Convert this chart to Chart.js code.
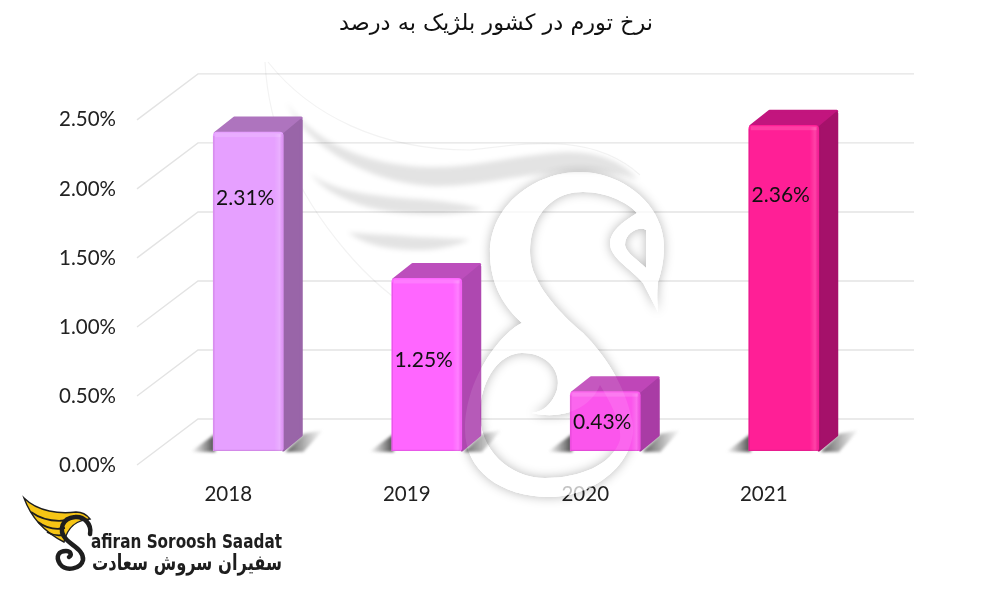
<!DOCTYPE html>
<html lang="fa">
<head>
<meta charset="utf-8">
<title>نرخ تورم در کشور بلژیک به درصد</title>
<script src="https://cdn.jsdelivr.net/npm/chart.js@4/dist/chart.umd.min.js"></script>
<style>
  html, body { margin: 0; background: #fff; }
  canvas { display: block; }
</style>
</head>
<body>
<canvas id="inflationChart" width="1000" height="600"></canvas>
<script>
const chartTitle = "نرخ تورم در کشور بلژیک به درصد";
const years = ["2018", "2019", "2020", "2021"];
const inflation = [2.31, 1.25, 0.43, 2.36];
const yTicks = [0, 0.5, 1, 1.5, 2, 2.5];

const frontColors = ["#E6A0FF", "#FF66FF", "#FB55EC", "#FF1F96"];
const sideColors = ["#9965A8", "#AE48B0", "#A93CA5", "#A5116A"];
const topColors = ["#AE74BE", "#BC4EBC", "#BF46B8", "#C2157E"];
// height of each value label, in axis units, as placed by hand in the original
const labelLevels = [1.83, 0.66, 0.21, 1.855];

const FONT = "Lato, 'Open Sans', sans-serif";
const DEPTH_X = 20;
const DEPTH_Y = 16;
// bars stand in front of the axis plane, the gridded wall stands behind it
const BAR_SHIFT = { x: 20, y: -12 };
const WALL_SHIFT = { x: 60, y: -44 };

function polygon(ctx, points) {
  ctx.beginPath();
  points.forEach(([x, y], i) => (i ? ctx.lineTo(x, y) : ctx.moveTo(x, y)));
  ctx.closePath();
}

const wallGrid = {
  id: "wallGrid",
  beforeDatasetsDraw(chart) {
    const { ctx, scales, chartArea } = chart;
    ctx.save();
    ctx.strokeStyle = "#E3E3E3";
    ctx.lineWidth = 1.4;
    scales.y.ticks.forEach((tick) => {
      const y = scales.y.getPixelForValue(tick.value);
      ctx.beginPath();
      ctx.moveTo(chartArea.left - 2, y + 2);
      ctx.lineTo(chartArea.left + WALL_SHIFT.x - 1, y + WALL_SHIFT.y);
      ctx.lineTo(chartArea.right + WALL_SHIFT.x + 1, y + WALL_SHIFT.y);
      ctx.stroke();
    });
    ctx.restore();
  },
};

// the pale swan across the middle of the picture
const wingEdges = [
  "M286,102 C320,150 380,166 430,167 C475,168 520,154 565,152 C600,151 625,163 638,180 C612,170 590,172 560,172 C510,176 470,188 430,186 C370,182 310,150 286,102 Z",
  "M310,173 C330,200 375,213 420,214 C445,215 465,213 482,209 C470,205 440,200 415,199 C370,196 330,190 310,173 Z",
  "M348,232 C365,246 395,251 425,250 C442,249 458,245 470,240 C455,238 430,238 405,236 C380,234 360,234 348,232 Z",
];
const swanOutline =
  "M658,312 C657,300 657,292 658,282 C665,262 666,240 660,225 C650,195 615,172 580,172 " +
  "C535,172 490,205 490,253 C490,285 505,308 522,323 C505,330 465,375 465,430 " +
  "C465,470 500,497 550,497 C595,497 640,460 632,420 C625,385 605,355 583,333 " +
  "C565,318 543,295 535,275 C522,245 535,192 583,192 C610,192 630,205 637,213 " +
  "C622,222 610,232 610,243 C610,258 630,268 643,283 Z " +
  // the open loop at the foot of the S
  "M480,410 C482,378 500,353 522,353 C548,353 562,372 557,390 C552,405 542,412 532,413 " +
  "C560,420 590,410 600,385 C612,405 622,425 620,440 C612,465 580,478 545,478 C510,478 478,450 480,410 Z " +
  // the eye
  "M646,230 C640,226 625,232 625,245 C626,253 638,260 646,268 Z";

const watermark = {
  id: "watermark",
  beforeDatasetsDraw(chart) {
    const layer = document.createElement("canvas");
    layer.width = chart.width;
    layer.height = chart.height;
    const c = layer.getContext("2d");
    const swan = new Path2D(swanOutline);

    // shadow only: paint the shape with its shadow, then cut the shape away
    c.shadowColor = "rgba(0,0,0,.28)";
    c.shadowBlur = 11;
    c.fillStyle = "#fff";
    c.fill(swan, "evenodd");
    c.shadowColor = "transparent";
    c.globalCompositeOperation = "destination-out";
    c.fill(swan, "evenodd");
    c.globalCompositeOperation = "source-over";
    c.fillStyle = "rgba(255,255,255,.7)";
    c.fill(swan, "evenodd");

    // grey crescents under the feathers
    c.filter = "blur(2.5px)";
    c.fillStyle = "rgba(0,0,0,.11)";
    wingEdges.forEach((d) => c.fill(new Path2D(d)));
    c.filter = "none";

    // faint outer line of the wing
    c.strokeStyle = "rgba(0,0,0,.05)";
    c.lineWidth = 1.2;
    c.stroke(new Path2D("M265,62 C268,120 290,185 345,250 C370,280 395,300 420,315"));
    c.stroke(new Path2D("M268,62 C310,115 380,150 470,150 C520,145 590,130 640,175"));

    chart.ctx.drawImage(layer, 0, 0);
  },
  afterDatasetsDraw(chart) {
    // the swan lies over the bars too, but only just shows on them
    chart.ctx.save();
    chart.ctx.fillStyle = "rgba(255,255,255,.1)";
    chart.ctx.fill(new Path2D(swanOutline), "evenodd");
    chart.ctx.restore();
  },
};

const bar3d = {
  id: "bar3d",
  beforeDatasetsDraw(chart) {
    const { ctx } = chart;
    const bars = chart.getDatasetMeta(0).data;
    bars.forEach((bar, i) => {
      const left = bar.x - bar.width / 2 + BAR_SHIFT.x;
      const right = bar.x + bar.width / 2 + BAR_SHIFT.x;
      const top = bar.y + BAR_SHIFT.y;
      const base = bar.base + BAR_SHIFT.y;

      // floor shadows either side of the foot
      ctx.save();
      ctx.filter = "blur(1.5px)";
      let shade = ctx.createLinearGradient(left - 22, 0, left, 0);
      shade.addColorStop(0, "rgba(90,90,90,0)");
      shade.addColorStop(1, "rgba(70,70,70,.9)");
      ctx.fillStyle = shade;
      polygon(ctx, [[left + 2, base + 1], [left + 2, base - 17], [left - 23, base + 1]]);
      ctx.fill();
      shade = ctx.createLinearGradient(right, 0, right + DEPTH_X + 20, 0);
      shade.addColorStop(0, "rgba(70,70,70,.95)");
      shade.addColorStop(1, "rgba(90,90,90,0)");
      ctx.fillStyle = shade;
      polygon(ctx, [
        [right + 2, base + 1],
        [right + DEPTH_X, base - DEPTH_Y - 1],
        [right + DEPTH_X + 20, base - 21],
        [right + 20, base + 1],
      ]);
      ctx.fill();
      ctx.restore();

      // top and side faces, stroked so that the corners come out round
      ctx.save();
      ctx.lineJoin = "round";
      ctx.lineWidth = 3;
      ctx.fillStyle = ctx.strokeStyle = topColors[i];
      polygon(ctx, [
        [left + 2, top + 1],
        [left + DEPTH_X + 1, top - DEPTH_Y + 2],
        [right + DEPTH_X - 2, top - DEPTH_Y + 2],
        [right - 1, top + 2],
      ]);
      ctx.fill();
      ctx.stroke();
      ctx.fillStyle = ctx.strokeStyle = sideColors[i];
      polygon(ctx, [
        [right, top + 3],
        [right + DEPTH_X - 2, top - DEPTH_Y + 4],
        [right + DEPTH_X - 2, base - DEPTH_Y],
        [right, base - 1],
      ]);
      ctx.fill();
      ctx.stroke();
      ctx.restore();
    });
  },
  beforeDatasetDraw(chart) {
    chart.ctx.save();
    chart.ctx.translate(BAR_SHIFT.x, BAR_SHIFT.y);
  },
  afterDatasetDraw(chart) {
    chart.ctx.restore();
  },
  afterDatasetsDraw(chart) {
    const { ctx } = chart;
    const bars = chart.getDatasetMeta(0).data;
    bars.forEach((bar, i) => {
      const left = bar.x - bar.width / 2 + BAR_SHIFT.x;
      const right = bar.x + bar.width / 2 + BAR_SHIFT.x;
      const top = bar.y + BAR_SHIFT.y;
      const base = bar.base + BAR_SHIFT.y;

      ctx.save();
      // bevel: soft light along the right and top edges, dark along the left
      const rim = ctx.createLinearGradient(right - 9, 0, right, 0);
      rim.addColorStop(0, "rgba(255,255,255,0)");
      rim.addColorStop(0.6, "rgba(255,255,255,.16)");
      rim.addColorStop(1, "rgba(120,0,120,.1)");
      ctx.fillStyle = rim;
      ctx.fillRect(right - 9, top + 2, 9, base - top - 2);
      ctx.fillStyle = "rgba(255,255,255,.14)";
      ctx.fillRect(left + 2, top + 1, bar.width - 4, 4);
      ctx.fillStyle = "rgba(110,20,110,.16)";
      ctx.fillRect(left, top + 4, 1.2, base - top - 4);
      ctx.fillRect(left + 1, base - 1.2, bar.width - 3, 1.2);

      ctx.fillStyle = "#111";
      ctx.font = "21px " + FONT;
      ctx.textAlign = "center";
      ctx.textBaseline = "middle";
      const labelY = chart.scales.y.getPixelForValue(labelLevels[i]) + BAR_SHIFT.y;
      ctx.fillText(inflation[i].toFixed(2) + "%", bar.x + BAR_SHIFT.x - 3, labelY);
      ctx.restore();
    });
  },
};

function fittedText(ctx, text, font, left, right, baseline) {
  ctx.font = font;
  const width = ctx.measureText(text).width;
  ctx.save();
  ctx.translate(left, baseline);
  ctx.scale((right - left) / width, 1);
  ctx.textAlign = "left";
  ctx.textBaseline = "alphabetic";
  ctx.fillText(text, 0, 0);
  ctx.restore();
}

function drawLogo(ctx) {
  ctx.save();
  ctx.fillStyle = "#F6C515";
  ctx.strokeStyle = "#1E1E1E";
  ctx.lineWidth = 1.4;
  const wing = new Path2D("M24,498 C38,512 60,514 76,512 C82,512 87,515 90,519 C78,520 68,525 64,542 C48,534 32,520 24,498 Z");
  ctx.fill(wing);
  ctx.stroke(wing);
  ctx.lineWidth = 1.8;
  ctx.stroke(new Path2D("M31,512 C42,520 56,522 69,520"));
  ctx.stroke(new Path2D("M38,522 C46,528 56,530 65,528"));
  ctx.stroke(new Path2D("M47,532 C52,535 58,536 63,535"));

  ctx.lineCap = "round";
  ctx.lineWidth = 4.5;
  ctx.stroke(new Path2D("M90,534 C92,524 84,516 75,517 C62,518 58,530 66,539 C72,546 84,550 83,560 C81,569 66,572 60,564 C55,556 59,551 66,551 C71,551 72,555 69,557"));

  ctx.fillStyle = "#1E1E1E";
  fittedText(ctx, "afiran Soroosh Saadat", "bold 19px 'DejaVu Sans'", 91, 282, 548);
  fittedText(ctx, "سفیران سروش سعادت", "bold 22px 'DejaVu Sans'", 92, 282, 570);
  ctx.restore();
}

const logo = {
  id: "logo",
  afterDraw(chart) {
    drawLogo(chart.ctx);
  },
};

new Chart(document.getElementById("inflationChart"), {
  type: "bar",
  data: {
    labels: years,
    datasets: [
      {
        data: inflation,
        backgroundColor: frontColors,
        barThickness: 70,
        borderRadius: { topLeft: 4, topRight: 4, bottomLeft: 1, bottomRight: 3 },
        borderSkipped: false,
      },
    ],
  },
  options: {
    responsive: false,
    animation: false,
    devicePixelRatio: 1,
    layout: { autoPadding: false, padding: { right: 147 } },
    plugins: {
      legend: { display: false },
      tooltip: { enabled: false },
      title: {
        display: true,
        text: chartTitle,
        fullSize: false,
        color: "#111",
        font: { family: "'DejaVu Sans'", size: 22.4, weight: "normal", lineHeight: 1.2 },
        padding: { top: 11, bottom: 80 },
      },
    },
    scales: {
      x: {
        grid: { display: false },
        border: { display: false },
        ticks: { color: "#222", font: { family: FONT, size: 20.5 }, padding: 11 },
        afterFit: (scale) => {
          scale.height = 137;
        },
      },
      y: {
        min: 0,
        max: 2.5,
        grid: { display: false },
        border: { display: false },
        afterBuildTicks: (scale) => {
          scale.ticks = yTicks.map((value) => ({ value }));
        },
        ticks: {
          color: "#222",
          font: { family: FONT, size: 20.5 },
          padding: 15,
          labelOffset: 2,
          callback: (value) => value.toFixed(2) + "%",
        },
        afterFit: (scale) => {
          scale.width = 139;
        },
      },
    },
  },
  plugins: [wallGrid, watermark, bar3d, logo],
});
</script>
</body>
</html>
